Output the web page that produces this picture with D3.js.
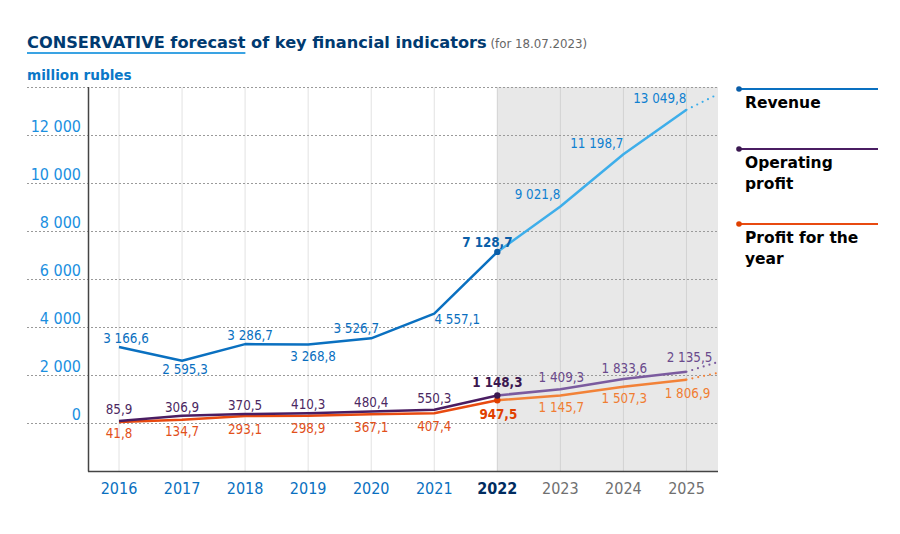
<!DOCTYPE html>
<html><head><meta charset="utf-8">
<script src="https://cdn.jsdelivr.net/npm/d3@7"></script>
<style>
body{margin:0;background:#fff;}
svg{display:block;}
text{font-family:"DejaVu Sans Condensed","DejaVu Sans",sans-serif;}
</style></head>
<body>
<svg id="chart" width="900" height="534"></svg>
<script>
// ---- data ----
const years = [2016,2017,2018,2019,2020,2021,2022,2023,2024,2025];
const revenue = [3166.6,2595.3,3286.7,3268.8,3526.7,4557.1,7128.7,9021.8,11198.7,13049.8];
const opProfit = [85.9,306.9,370.5,410.3,480.4,550.3,1148.3,1409.3,1833.6,2135.5];
const netProfit = [41.8,134.7,293.1,298.9,367.1,407.4,947.5,1145.7,1507.3,1806.9];
const forecastStartYear = 2022;
const extensionYear = 2025.5;
const extensionValues = [13700, 2540, 2090]; // revenue, op profit, net profit (read from dotted tail)
const yTicks = [0,2000,4000,6000,8000,10000,12000,14000];
const seriesNames = ["Revenue","Operating\nprofit","Profit for the\nyear"];

// ---- styles ----
const svg = d3.select("#chart");
const x = d3.scaleLinear().domain([2016, 2025.5]).range([119, 718]);
const y = d3.scaleLinear().domain([-2000, 14000]).range([471, 87]);
const plotL = 88, plotR = 718;

const fmt = v => d3.format(",.1f")(v).replace(/,/g," ").replace(".",",");
const fmtTick = v => d3.format(",")(v).replace(/,/g," ");

// forecast shading
svg.append("rect").attr("x", x(forecastStartYear)).attr("y", y(14000))
  .attr("width", plotR - x(forecastStartYear)).attr("height", y(-2000)-y(14000))
  .attr("fill", "#e8e8e8");

// vertical gridlines
svg.append("g").selectAll("line").data(years).join("line")
  .attr("x1", d=>x(d)).attr("x2", d=>x(d)).attr("y1", y(14000)).attr("y2", y(-2000))
  .attr("stroke", d=> d>=forecastStartYear ? "#d2d2d2" : "#e2e2e2").attr("stroke-width",1);

// horizontal dotted gridlines
svg.append("g").selectAll("line").data(yTicks).join("line")
  .attr("x1", 27).attr("x2", plotR).attr("y1", d=>y(d)+0.5).attr("y2", d=>y(d)+0.5)
  .attr("stroke", "#9a9a9a").attr("stroke-width",1).attr("stroke-dasharray","2,2");

// y tick labels
svg.append("g").selectAll("text").data(yTicks.filter(d=>d<14000)).join("text")
  .attr("x", 81).attr("y", d=>y(d)-3).attr("text-anchor","end")
  .attr("font-size", 16).attr("fill", "#1b8fdf").text(d=>fmtTick(d));

// axes lines
svg.append("line").attr("x1",plotL+0.5).attr("x2",plotL+0.5).attr("y1",y(14000)).attr("y2",y(-2000)+0.5)
  .attr("stroke","#444").attr("stroke-width",1.5);
svg.append("line").attr("x1",plotL).attr("x2",plotR).attr("y1",y(-2000)+0.5).attr("y2",y(-2000)+0.5)
  .attr("stroke","#444").attr("stroke-width",1.5);

// x labels
svg.append("g").selectAll("text").data(years).join("text")
  .attr("x", d=>x(d)).attr("y", 494).attr("text-anchor","middle").attr("font-size",16)
  .attr("font-weight", d=> d===forecastStartYear ? "bold" : "normal")
  .attr("fill", d=> d<forecastStartYear ? "#0a70bf" : d===forecastStartYear ? "#002c5f" : "#707070")
  .text(d=>d);

const series = [
  {vals: revenue, ext: extensionValues[0], hist:"#0a70c0", fore:"#3eaeea", histText:"#0a6fbf", foreText:"#0f80d0", boldText:"#0a5ea8", dot:"#0a5ea8"},
  {vals: opProfit, ext: extensionValues[1], hist:"#4a1d62", fore:"#7b5b9f", histText:"#4b2862", foreText:"#6a4a8c", boldText:"#3b1850", dot:"#3b1850"},
  {vals: netProfit, ext: extensionValues[2], hist:"#e84a10", fore:"#f28238", histText:"#e2501a", foreText:"#f07d32", boldText:"#e04000", dot:"#e04000"}
];

const line = d3.line().x(d=>x(d[0])).y(d=>y(d[1]));
// draw net profit, then op, then revenue
[2,1,0].forEach(si=>{
  const s = series[si];
  const pts = years.map((yr,i)=>[yr, s.vals[i]]);
  const hist = pts.filter(p=>p[0]<=forecastStartYear);
  const fore = pts.filter(p=>p[0]>=forecastStartYear);
  const last = pts[pts.length-1];
  svg.append("path").attr("d", line(hist)).attr("fill","none").attr("stroke",s.hist).attr("stroke-width",2.5).attr("stroke-linejoin","round");
  svg.append("path").attr("d", line(fore)).attr("fill","none").attr("stroke",s.fore).attr("stroke-width",2.5).attr("stroke-linejoin","round");
  svg.append("path").attr("d", line([last,[extensionYear, s.ext]])).attr("fill","none")
    .attr("stroke",s.fore).attr("stroke-width",2.2).attr("stroke-dasharray","0,6").attr("stroke-linecap","round");
  svg.append("circle").attr("cx", x(forecastStartYear)).attr("cy", y(s.vals[years.indexOf(forecastStartYear)])).attr("r",3.2).attr("fill",s.dot);
});

// labels
const labelFont = 13.3;
// revenue label placements (dx, dy, anchor)
const revPlace = [[7,-4,"middle"],[3,13,"middle"],[5,-4,"middle"],[5,16,"middle"],[-15,-5,"middle"],[23,10,"middle"],[-10,-5,"middle"],[0,-7,"end"],[0,-6,"end"],[0,-7,"end"]];
const opPlace  = [[0,-7],[0,-4],[0,-4],[0,-4],[0,-4],[0,-7],[0,-8],[1,-7],[1,-6],[3,-10]];
const netPlace = [[0,16],[0,16],[0,18],[0,17],[0,18],[0,18],[1,19],[1,16],[1,16],[1,18]];

function drawLabels(s, place, anchorDefault){
  svg.append("g").selectAll("text").data(years).join("text")
    .attr("x",(d,i)=>x(d)+place[i][0]).attr("y",(d,i)=>y(s.vals[i])+place[i][1])
    .attr("text-anchor",(d,i)=>place[i][2]||anchorDefault)
    .attr("font-size", labelFont)
    .attr("font-weight",d=>d===forecastStartYear?"bold":"normal")
    .attr("fill",d=> d<forecastStartYear ? s.histText : d===forecastStartYear ? s.boldText : s.foreText)
    .text((d,i)=>fmt(s.vals[i]));
}
drawLabels(series[0], revPlace, "middle");
drawLabels(series[1], opPlace, "middle");
drawLabels(series[2], netPlace, "middle");

// title
const title = svg.append("text").attr("x",27).attr("y",48).attr("font-size",16.2).attr("font-weight","bold")
  .style("font-family","'DejaVu Sans',sans-serif").attr("fill","#003a70");
title.append("tspan").attr("id","t1").text("CONSERVATIVE forecast");
title.append("tspan").text(" of key financial indicators");
title.append("tspan").attr("font-size",11.8).attr("font-weight","normal").attr("fill","#666").text(" (for 18.07.2023)");
const t1w = document.getElementById("t1").getComputedTextLength();
svg.append("line").attr("x1",27).attr("x2",27+t1w).attr("y1",53).attr("y2",53).attr("stroke","#3aa3e3").attr("stroke-width",2);

svg.append("text").attr("x",27).attr("y",80).attr("font-size",13.6).attr("font-weight","bold")
  .style("font-family","'DejaVu Sans',sans-serif").attr("fill","#0a78c8").text("million rubles");

// legend
const legY = [89, 149, 224];
series.forEach((s,i)=>{
  const g = svg.append("g");
  g.append("line").attr("x1",738).attr("x2",878).attr("y1",legY[i]).attr("y2",legY[i]).attr("stroke",s.hist).attr("stroke-width",2);
  g.append("circle").attr("cx",739).attr("cy",legY[i]).attr("r",2.8).attr("fill",s.dot);
  const lines = seriesNames[i].split("\n");
  lines.forEach((ln,j)=>{
    g.append("text").attr("x",745).attr("y",legY[i]+19+j*21).attr("font-size",15.5).attr("font-weight","bold")
      .style("font-family","'DejaVu Sans',sans-serif").attr("fill","#000").text(ln);
  });
});
</script>
</body></html>
